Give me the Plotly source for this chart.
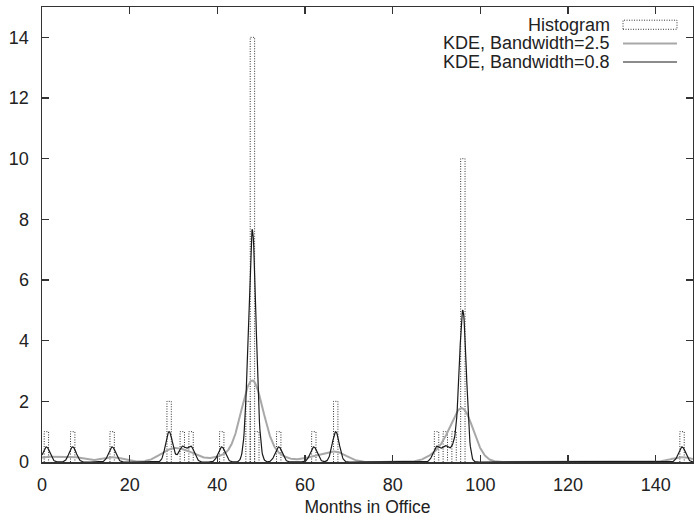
import numpy as np
import plotly.graph_objects as go

# months in office (bin centre) and how many presidents fall in each bin
bin_months = [1, 7, 16, 29, 32, 34, 41, 47, 48, 49, 54, 62, 67, 90, 92, 94, 96, 146]
bin_counts = [1, 1, 1, 2, 1, 1, 1, 2, 14, 1, 1, 1, 2, 1, 1, 1, 10, 1]

bandwidths = [2.5, 0.8]
kde_colors = ["#a8a8a8", "#1a1a1a"]
kde_widths = [2.0, 1.2]

x_ticks = [0, 20, 40, 60, 80, 100, 120, 140]
y_ticks = [0, 2, 4, 6, 8, 10, 12, 14]

TEXT = "#222222"
FONT = "Liberation Sans, Arial, Helvetica, sans-serif"

# ---------------------------------------------------------------------------
fig = go.Figure()

# histogram as box outlines (dotted, like gnuplot "with boxes")
hx, hy = [], []
for m, c in zip(bin_months, bin_counts):
    hx += [m - 0.5, m - 0.5, m + 0.5, m + 0.5, None]
    hy += [0, c, c, 0, None]
fig.add_trace(go.Scatter(
    x=hx, y=hy, mode="lines", showlegend=False,
    line=dict(color="#333333", width=1, dash="1px,1.5px"),
))

# gaussian kernel density estimates (unnormalised, weight 1 per president)
points = np.repeat(np.array(bin_months, dtype=float), bin_counts)
grid = np.linspace(0, 148.5, 1486)
for bw, col, lw in zip(bandwidths, kde_colors, kde_widths):
    u = (grid[:, None] - points[None, :]) / bw
    dens = np.exp(-0.5 * u ** 2).sum(axis=1) / (np.sqrt(2 * np.pi) * bw)
    fig.add_trace(go.Scatter(
        x=grid, y=dens, mode="lines", showlegend=False,
        line=dict(color=col, width=lw),
    ))

# --- gnuplot style key: right-aligned text, sample on the right ---
key_rows = [("Histogram", 0.9604), ("KDE, Bandwidth=2.5", 0.9198), ("KDE, Bandwidth=0.8", 0.8791)]
for label, ky in key_rows:
    fig.add_annotation(
        x=0.8756, y=ky, xref="paper", yref="paper", text=label,
        showarrow=False, xanchor="right", yanchor="middle",
        font=dict(family=FONT, size=18, color=TEXT),
    )
fig.add_shape(type="rect", xref="paper", yref="paper",
              x0=0.8925, x1=0.9754, y0=0.9510, y1=0.9710,
              line=dict(color="#333333", width=1, dash="1px,1.5px"))
for (label, ky), col, lw in zip(key_rows[1:], kde_colors, kde_widths):
    fig.add_shape(type="line", xref="paper", yref="paper",
                  x0=0.8925, x1=0.9754, y0=ky, y1=ky,
                  line=dict(color=col, width=lw))

axis_common = dict(
    showline=True, linecolor="#333333", linewidth=1.5, mirror="allticks",
    ticks="inside", ticklen=7, tickwidth=1.5, tickcolor="#333333",
    showgrid=False, zeroline=False, automargin=False,
    tickfont=dict(family=FONT, size=18, color=TEXT),
)

fig.update_layout(
    width=694, height=521, autosize=False,
    margin=dict(l=42, r=1, t=7, b=59),
    paper_bgcolor="white", plot_bgcolor="white",
    font=dict(family=FONT, size=18, color=TEXT),
    showlegend=False,
)
fig.update_xaxes(
    range=[0, 148.5], tickvals=x_ticks, ticklabelstandoff=6,
    title=dict(text="Months in Office", font=dict(family=FONT, size=17.5, color=TEXT), standoff=6),
    **axis_common,
)
fig.update_yaxes(range=[0, 15], tickvals=y_ticks, ticklabelstandoff=8, **axis_common)

# the page body has a default 8px margin; drop it so the figure sits at (0, 0)
fig.write_html(
    "out.html",
    config={"displayModeBar": False, "staticPlot": True},
    post_script="document.body.style.margin='0';document.body.style.overflow='hidden';",
)
